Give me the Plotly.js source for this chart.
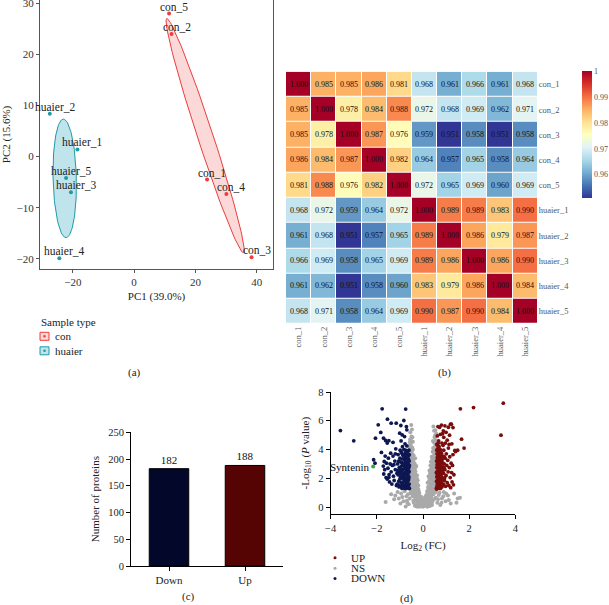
<!DOCTYPE html>
<html><head><meta charset="utf-8">
<script src="https://cdn.plot.ly/plotly-3.0.1.min.js"></script>
<style>html,body{margin:0;padding:0;background:#fff}#chart{width:609px;height:605px}</style>
</head><body><div id="chart"></div>
<script>
// ---------------- DATA ----------------
// (a) PCA
const pcaLabels = ['con_1','con_2','con_3','con_4','con_5','huaier_1','huaier_2','huaier_3','huaier_4','huaier_5'];
const pcaGroups = ['con','con','con','con','con','huaier','huaier','huaier','huaier','huaier'];
const pc1 = [23.8, 12.2, 38.3, 30.1, 11.4, -18.5, -27.5, -20.6, -24.4, -22.2];
const pc2 = [-4.5, 24.0, -19.7, -7.3, 28.0, 1.4, 8.4, -7.0, -19.9, -4.2];
const groupNames = ['con','huaier'];

// (b) correlation heatmap
const samples = ['con_1','con_2','con_3','con_4','con_5','huaier_1','huaier_2','huaier_3','huaier_4','huaier_5'];
const corr = [
 [1.000,0.985,0.985,0.986,0.981,0.968,0.961,0.966,0.961,0.968],
 [0.985,1.000,0.978,0.984,0.988,0.972,0.968,0.969,0.962,0.971],
 [0.985,0.978,1.000,0.987,0.976,0.959,0.951,0.958,0.951,0.958],
 [0.986,0.984,0.987,1.000,0.982,0.964,0.957,0.965,0.958,0.964],
 [0.981,0.988,0.976,0.982,1.000,0.972,0.965,0.969,0.960,0.969],
 [0.968,0.972,0.959,0.964,0.972,1.000,0.989,0.989,0.983,0.990],
 [0.961,0.968,0.951,0.957,0.965,0.989,1.000,0.986,0.979,0.987],
 [0.966,0.969,0.958,0.965,0.969,0.989,0.986,1.000,0.986,0.990],
 [0.961,0.962,0.951,0.958,0.960,0.983,0.979,0.986,1.000,0.984],
 [0.968,0.971,0.958,0.964,0.969,0.990,0.987,0.990,0.984,1.000]
];
const cbTicks = [0.96,0.97,0.98,0.99,1];
const cbTickText = ['0.96','0.97','0.98','0.99','1'];

// (c) bar chart
const barCats = ['Down','Up'];
const barVals = [182, 188];

// (d) volcano  [log2FC, -log10 P]
const downPts = [[-3.58,5.32],[-3.00,4.61],[-2.14,3.29],[-2.08,3.05],[-2.06,4.79],[-1.94,5.72],[-1.83,5.19],[-1.80,3.80],[-1.77,6.83],[-1.71,4.79],[-1.68,3.17],[-1.62,4.63],[-1.54,6.11],[-1.48,4.62],[-1.38,5.83],[-1.16,5.83],[-1.01,5.14],[-0.96,5.67],[-0.90,5.02],[-0.83,6.02],[-0.80,4.90],[-0.75,6.81],[-0.72,5.60],[-0.70,5.37],[-1.55,4.45],[-1.30,4.50],[-0.95,4.60],[-0.78,4.40],
 [-1.72,2.85],[-1.70,2.30],[-1.66,2.60],[-1.64,3.55],[-1.60,2.05],[-1.58,3.05],[-1.55,1.95],[-1.52,2.70],[-1.50,3.40],[-1.47,2.25],[-1.45,1.75],[-1.42,3.00],[-1.40,3.75],[-1.38,2.45],[-1.35,1.60],[-1.33,2.90],[-1.30,3.55],[-1.28,2.15],[-1.25,1.85],[-1.22,3.20],[-1.20,2.60],[-1.18,4.05],[-1.15,1.50],[-1.13,2.35],[-1.10,3.00],[-1.08,3.65],[-1.05,1.80],[-1.03,2.75],[-1.00,3.40],[-0.98,2.10],[-0.97,1.45],[-0.95,3.85],[-0.93,2.50],[-0.92,3.10],[-0.90,1.65],[-0.88,2.90],[-0.87,3.60],[-0.85,2.20],[-0.84,1.35],[-0.83,4.00],[-0.82,2.65],[-0.80,3.30],[-0.79,1.90],[-0.78,2.40],[-0.77,3.75],[-0.76,1.50],[-0.75,2.95],[-0.74,2.15],[-0.73,3.45],[-0.72,1.70],[-0.71,2.60],[-0.70,3.15],[-0.69,1.40],[-0.68,2.00],[-0.68,3.90],[-0.67,2.80],[-0.66,1.55],[-0.66,3.35],[-0.65,2.30],[-0.64,1.85],[-0.64,3.00],[-0.63,2.55],[-0.62,1.35],[-0.62,3.60],[-0.61,2.10],[-0.61,2.75],[-0.60,1.60],[-0.60,3.20],[-0.86,2.05],[-0.94,2.85],[-1.12,1.60],[-1.26,2.95],[-1.48,2.05],[-0.70,4.25],[-0.76,3.95],[-0.89,4.20],[-0.99,3.95],[-1.20,3.70],
 [-1.08,2.25],[-1.06,3.20],[-1.04,1.40],[-1.02,2.45],[-1.00,1.95],[-0.98,3.15],[-0.96,2.30],[-0.94,1.70],[-0.92,3.75],[-0.91,1.30],[-0.89,2.60],[-0.88,3.35],[-0.86,1.55],[-0.85,2.95],[-0.83,2.35],[-0.82,3.55],[-0.81,1.75],[-0.79,2.80],[-0.78,3.10],[-0.77,1.30],[-0.76,2.20],[-0.75,3.55],[-0.74,1.85],[-0.73,2.70],[-0.72,1.30],[-0.71,3.80],[-0.70,2.40],[-0.69,3.00],[-0.68,1.65],[-0.67,2.15],[-0.66,3.70],[-0.65,2.65],[-0.64,1.40],[-0.63,3.35],[-0.62,1.95],[-0.61,3.95],[-0.60,2.45],[-0.59,1.30],[-0.59,2.90],[-0.60,3.65],[-1.10,2.55],[-1.06,1.55],[-0.97,2.65],[-0.87,1.95]];
const upPts = [[3.48,7.22],[3.38,5.00],[2.19,6.92],[1.62,6.83],[1.78,4.10],[1.67,4.72],[1.50,3.95],[1.38,3.94],[1.23,5.76],[1.10,5.55],[0.95,5.65],[0.88,5.30],[0.80,5.70],[0.72,5.55],[0.65,5.60],[1.00,5.20],[1.15,5.00],[0.75,5.05],[0.62,4.95],[0.90,4.85],[1.05,4.65],[0.68,4.60],[1.25,4.40],[0.82,4.45],[0.60,4.35],
 [0.60,1.25],[0.60,2.10],[0.61,2.95],[0.61,3.70],[0.62,1.60],[0.62,2.50],[0.63,3.30],[0.63,4.05],[0.64,1.90],[0.64,2.75],[0.65,1.35],[0.65,3.55],[0.66,2.25],[0.66,3.05],[0.67,1.70],[0.67,3.85],[0.68,2.60],[0.69,1.45],[0.69,3.25],[0.70,2.05],[0.70,4.20],[0.71,2.85],[0.72,1.55],[0.72,3.50],[0.73,2.35],[0.74,1.95],[0.74,3.00],[0.75,4.00],[0.76,1.30],[0.76,2.70],[0.77,3.35],[0.78,2.15],[0.79,1.75],[0.80,3.75],[0.80,2.50],[0.82,1.40],[0.82,3.10],[0.84,2.00],[0.85,2.80],[0.86,3.55],[0.88,1.60],[0.89,2.35],[0.90,3.95],[0.92,3.00],[0.93,1.85],[0.95,2.60],[0.96,3.40],[0.98,1.45],[1.00,2.20],[1.01,3.70],[1.03,2.90],[1.05,1.70],[1.07,3.25],[1.09,2.45],[1.10,4.10],[1.12,1.50],[1.14,2.75],[1.16,3.50],[1.18,2.05],[1.20,1.35],[1.22,3.05],[1.24,2.40],[1.26,1.75],[1.28,2.90],[1.30,3.65],[1.32,1.55],[1.34,2.25],[0.87,4.30],[0.97,4.45],[1.13,4.35],[0.66,4.45],
 [0.58,1.30],[0.58,2.40],[0.59,3.20],[0.59,1.80],[0.60,2.75],[0.60,3.95],[0.61,1.45],[0.62,2.25],[0.62,3.45],[0.63,1.75],[0.64,3.10],[0.65,2.40],[0.65,4.25],[0.66,1.50],[0.67,2.90],[0.68,1.95],[0.68,3.65],[0.70,2.45],[0.70,3.40],[0.71,1.30],[0.72,2.95],[0.73,1.80],[0.74,3.80],[0.75,2.25],[0.76,3.10],[0.77,1.60],[0.78,2.80],[0.79,3.55],[0.80,1.95],[0.81,2.30],[0.83,3.30],[0.84,1.50],[0.86,2.55],[0.87,3.05],[0.88,1.95],[0.91,2.75],[0.92,3.50],[0.94,2.05],[1.19,5.76],[1.30,5.53],[0.85,5.10],[1.41,3.86]];
const nsPts = [[-0.40,0.30],[-0.35,0.10],[-0.30,0.45],[-0.28,0.05],[-0.25,0.25],[-0.22,0.60],[-0.20,0.02],[-0.18,0.35],[-0.15,0.15],[-0.12,0.50],[-0.10,0.05],[-0.08,0.28],[-0.05,0.12],[-0.03,0.40],[0.00,0.02],[0.02,0.20],[0.04,0.45],[0.06,0.08],[0.09,0.30],[0.11,0.55],[0.13,0.12],[0.16,0.38],[0.19,0.03],[0.21,0.65],[0.24,0.22],[0.27,0.48],[0.30,0.08],[0.33,0.35],[0.36,0.70],[0.39,0.15],[0.42,0.50],[-0.45,0.75],[-0.38,0.90],[-0.32,0.72],[-0.27,0.95],[-0.18,0.80],[0.15,0.85],[0.25,0.90],[0.32,1.00],[0.45,0.90],
 [-0.55,1.20],[-0.50,1.50],[-0.47,1.90],[-0.44,1.10],[-0.40,1.70],[-0.36,1.35],[-0.33,1.95],[-0.29,1.15],[-0.25,1.60],[-0.21,1.25],[-0.17,1.05],[0.18,1.10],[0.22,1.40],[0.26,1.80],[0.30,1.25],[0.34,1.60],[0.38,1.95],[0.42,1.30],[0.46,1.70],[0.50,1.15],[0.54,1.55],[0.57,1.90],
 [-0.58,2.40],[-0.55,2.85],[-0.52,2.15],[-0.49,2.60],[-0.46,2.95],[-0.43,2.30],[-0.40,2.75],[-0.36,2.10],[-0.33,2.50],[-0.29,2.85],[-0.26,2.20],[0.24,2.15],[0.28,2.55],[0.32,2.90],[0.36,2.30],[0.40,2.70],[0.44,2.05],[0.48,2.45],[0.52,2.85],[0.55,2.25],[0.58,2.65],
 [-0.60,3.30],[-0.57,3.75],[-0.54,3.10],[-0.51,3.50],[-0.48,3.90],[-0.45,3.25],[-0.41,3.60],[-0.37,3.05],[-0.34,3.40],[0.34,3.15],[0.38,3.50],[0.42,3.85],[0.45,3.25],[0.49,3.65],[0.52,3.05],[0.55,3.45],[0.58,3.90],
 [-0.59,4.25],[-0.56,4.70],[-0.53,4.40],[-0.50,4.90],[-0.47,4.15],[-0.44,4.55],[-0.55,5.20],[-0.51,5.70],[-0.48,5.40],[0.44,4.10],[0.47,4.50],[0.50,4.85],[0.53,4.25],[0.56,4.65],[0.58,5.10],[0.45,5.60],[0.54,5.35],
 [-1.62,0.35],[-1.38,0.90],[-1.25,0.55],[-1.10,1.05],[-0.98,0.25],[-0.90,0.70],[-0.80,1.10],[-0.75,0.05],[-0.70,0.45],[-0.65,0.90],[-0.62,0.20],[0.62,0.30],[0.68,0.85],[0.75,0.15],[0.82,0.60],[0.90,1.05],[0.98,0.40],[1.08,0.80],[1.20,0.25],[1.35,0.95],[1.50,0.60],[-0.58,0.60],[0.55,0.65],
 [-0.52,1.75],[-0.48,2.20],[-0.45,1.45],[-0.42,2.45],[-0.39,1.20],[-0.35,1.75],[-0.31,2.25],[-0.27,1.40],[-0.23,1.85],[-0.20,1.50],[-0.14,0.70],[-0.24,0.55],[-0.34,0.55],[-0.42,0.45],[-0.50,0.95],[0.20,1.70],[0.24,1.05],[0.28,2.00],[0.31,2.35],[0.35,1.05],[0.39,2.45],[0.43,1.55],[0.47,2.15],[0.50,2.95],[0.53,1.35],[0.56,3.10],[0.40,0.35],[0.48,0.55],[0.12,0.75],[-0.06,0.70],[-0.53,2.55],[-0.50,3.20],[-0.44,2.70],[-0.40,3.35],[-0.38,2.40],[0.36,2.70],[0.41,3.10],[0.46,2.75],[0.50,3.40],[0.53,3.75],[-0.57,4.05],[-0.53,3.65],[0.51,4.45],[0.57,4.35],
 [-0.57,1.40],[-0.56,2.05],[-0.55,3.55],[-0.54,1.00],[-0.53,2.30],[-0.52,2.95],[-0.51,4.20],[-0.50,1.30],[-0.49,3.75],[-0.48,1.65],[-0.47,2.50],[-0.46,3.40],[-0.45,2.05],[-0.44,4.00],[-0.43,1.15],[-0.42,2.90],[-0.41,1.85],[-0.40,2.20],[-0.39,3.05],[-0.38,1.50],[-0.37,2.60],[-0.36,0.85],[-0.35,2.30],[-0.34,1.20],[-0.33,2.75],[-0.32,1.60],[-0.31,1.05],[-0.30,1.90],[-0.29,0.60],[-0.28,1.35],[-0.26,0.80],[-0.25,1.95],[-0.23,1.10],[-0.22,0.35],[-0.20,1.20],[-0.19,0.55],[-0.17,0.25],[-0.16,0.95],[-0.13,0.35],[-0.11,0.20],[-0.58,1.90],[-0.58,3.00],[-0.57,4.50],[-0.52,4.65],[-0.46,4.85],
 [0.56,1.05],[0.55,2.00],[0.55,3.75],[0.54,2.60],[0.53,1.80],[0.52,3.35],[0.51,2.20],[0.50,1.55],[0.49,4.05],[0.48,3.05],[0.47,1.25],[0.46,3.50],[0.45,2.40],[0.44,1.85],[0.43,2.80],[0.42,1.10],[0.41,2.15],[0.40,3.35],[0.39,1.65],[0.38,2.95],[0.37,1.25],[0.36,1.95],[0.35,2.55],[0.34,0.85],[0.33,1.40],[0.32,2.10],[0.31,0.60],[0.30,1.65],[0.28,1.05],[0.27,1.45],[0.26,0.70],[0.23,1.25],[0.22,0.40],[0.20,0.95],[0.18,0.50],[0.17,0.20],[0.14,0.45],[0.10,0.15],[0.07,0.35],[0.57,2.90],[0.57,1.50],[0.53,5.00],[0.48,5.30],[0.43,4.60],
 [-1.20,0.80],[-1.05,0.60],[-0.95,0.95],[-0.85,0.40],[-0.72,0.75],[-0.68,0.30],[0.65,0.55],[0.72,1.00],[0.80,0.30],[0.88,0.75],[1.00,0.95],[1.12,0.50],[1.45,0.30],[1.60,0.65],[-0.05,0.50],[0.03,0.60],[-0.01,0.15]];
const highlightName = 'Syntenin';
const highlightPt = [-2.16, 2.82];
const volcanoLegend = ['UP','NS','DOWN'];

// ---------------- LAYOUT HELPERS ----------------
const W = 609, H = 605;
const PX = v => v / W;
const PY = v => 1 - v / H;
const SERIF = '"Liberation Serif","Times New Roman",serif';
const RED = '#ee3b3b', RED_FILL = 'rgba(240,80,80,0.22)';
const TEAL = '#1f9aa5', TEAL_FILL = 'rgba(90,185,205,0.38)';
const UPC = '#7a0c0c', DOWNC = '#0d1752', NSC = '#a9a9a9';

function ellipse(xs, ys, k) {
  const n = xs.length;
  const mx = xs.reduce((a,b)=>a+b,0)/n, my = ys.reduce((a,b)=>a+b,0)/n;
  let sxx=0, syy=0, sxy=0;
  for (let i=0;i<n;i++){ const dx=xs[i]-mx, dy=ys[i]-my; sxx+=dx*dx; syy+=dy*dy; sxy+=dx*dy; }
  sxx/=(n-1); syy/=(n-1); sxy/=(n-1);
  const tr=sxx+syy, det=sxx*syy-sxy*sxy;
  const d=Math.sqrt(Math.max(tr*tr/4-det,0));
  const l1=tr/2+d, l2=Math.max(tr/2-d,0);
  const th=Math.atan2(l1-sxx, sxy);
  const ex=[], ey=[];
  for (let i=0;i<=120;i++){
    const t=2*Math.PI*i/120;
    const u=k*Math.sqrt(l1)*Math.cos(t), v=k*Math.sqrt(l2)*Math.sin(t);
    ex.push(mx+u*Math.cos(th)-v*Math.sin(th));
    ey.push(my+u*Math.sin(th)+v*Math.cos(th));
  }
  return {ex, ey};
}

const traces = [];
const annotations = [];
const shapes = [];

// (a) ellipses + points
const gColor = {con:[RED,RED_FILL], huaier:[TEAL,TEAL_FILL]};
groupNames.forEach(g => {
  const xs = pc1.filter((_,i)=>pcaGroups[i]===g), ys = pc2.filter((_,i)=>pcaGroups[i]===g);
  const e = ellipse(xs, ys, 1.1);
  traces.push({type:'scatter', mode:'lines', x:e.ex, y:e.ey, fill:'toself', fillcolor:gColor[g][1],
    line:{color:gColor[g][0], width:1}, xaxis:'x', yaxis:'y', showlegend:false, hoverinfo:'skip'});
});
groupNames.forEach(g => {
  traces.push({type:'scatter', mode:'markers', x:pc1.filter((_,i)=>pcaGroups[i]===g), y:pc2.filter((_,i)=>pcaGroups[i]===g),
    marker:{color:gColor[g][0], size:4}, xaxis:'x', yaxis:'y', showlegend:false});
});
pcaLabels.forEach((lab,i) => annotations.push({x:pc1[i], y:pc2[i], xref:'x', yref:'y', text:lab, showarrow:false,
  xanchor:'center', yanchor:'middle', xshift:5, yshift:7, font:{family:SERIF, size:11.5, color:'#222'}}));

// (b) heatmap
traces.push({type:'heatmap', z:corr, x:samples, y:samples, xaxis:'x2', yaxis:'y2', zmin:0.951, zmax:1,
  xgap:1, ygap:1,
  colorscale:[[0,'#313695'],[0.1,'#4575b4'],[0.2,'#74add1'],[0.3,'#abd9e9'],[0.4,'#e0f3f8'],[0.5,'#ffffbf'],
              [0.6,'#fee090'],[0.7,'#fdae61'],[0.8,'#f46d43'],[0.9,'#d73027'],[1,'#a50026']],
  texttemplate:'%{z:.3f}', textfont:{family:SERIF, size:8, color:'#111'},
  colorbar:{x:PX(582), xanchor:'left', y:PY(71), yanchor:'top', len:127/H, lenmode:'fraction',
    thickness:10, thicknessmode:'pixels', outlinewidth:0, tickvals:cbTicks, ticktext:cbTickText, ticks:'',
    tickfont:{family:SERIF, size:8, color:'#555'}, xpad:0, ypad:0}});

// (c) bars
traces.push({type:'bar', x:barCats, y:barVals, xaxis:'x3', yaxis:'y3', width:0.52,
  marker:{color:['#03082a','#550303'], line:{color:'#000', width:1}},
  text:barVals.map(String), textposition:'outside', textfont:{family:SERIF, size:11, color:'#111'},
  cliponaxis:false, showlegend:false});

// (d) volcano
traces.push({type:'scatter', mode:'markers', x:nsPts.map(p=>p[0]), y:nsPts.map(p=>p[1]), xaxis:'x4', yaxis:'y4',
  marker:{color:NSC, size:4}, showlegend:false});
traces.push({type:'scatter', mode:'markers', x:downPts.map(p=>p[0]), y:downPts.map(p=>p[1]), xaxis:'x4', yaxis:'y4',
  marker:{color:DOWNC, size:3.8}, showlegend:false});
traces.push({type:'scatter', mode:'markers', x:upPts.map(p=>p[0]), y:upPts.map(p=>p[1]), xaxis:'x4', yaxis:'y4',
  marker:{color:UPC, size:3.8}, showlegend:false});
traces.push({type:'scatter', mode:'markers', x:[highlightPt[0]], y:[highlightPt[1]], xaxis:'x4', yaxis:'y4',
  marker:{color:'#3aa63a', size:4}, showlegend:false});
annotations.push({x:highlightPt[0], y:highlightPt[1], xref:'x4', yref:'y4', text:highlightName, showarrow:false,
  xanchor:'right', yanchor:'middle', xshift:-1, font:{family:SERIF, size:11, color:'#111'}});

// legends (manual)
annotations.push({x:PX(39), y:PY(322), xref:'paper', yref:'paper', text:'Sample type', showarrow:false,
  xanchor:'left', yanchor:'middle', font:{family:SERIF, size:11, color:'#222'}});
const legRows = [[336.3,'con',RED,RED_FILL],[350.8,'huaier',TEAL,TEAL_FILL]];
legRows.forEach(r => {
  shapes.push({type:'rect', xref:'paper', yref:'paper', x0:PX(40), x1:PX(49), y0:PY(r[0]+4), y1:PY(r[0]-4),
    fillcolor:r[3], line:{color:r[2], width:1}});
  shapes.push({type:'circle', xref:'paper', yref:'paper', x0:PX(43.2), x1:PX(45.8), y0:PY(r[0]+1.3), y1:PY(r[0]-1.3),
    fillcolor:r[2], line:{width:0}});
  annotations.push({x:PX(53), y:PY(r[0]), xref:'paper', yref:'paper', text:r[1], showarrow:false,
    xanchor:'left', yanchor:'middle', font:{family:SERIF, size:11, color:'#222'}});
});
const vlegY = [557.7, 568.2, 578.4];
const vlegC = [UPC, NSC, DOWNC];
volcanoLegend.forEach((t,i) => {
  shapes.push({type:'circle', xref:'paper', yref:'paper', x0:PX(333.5), x1:PX(336.5), y0:PY(vlegY[i]+1.5), y1:PY(vlegY[i]-1.5),
    fillcolor:vlegC[i], line:{width:0}});
  annotations.push({x:PX(348.5), y:PY(vlegY[i]), xref:'paper', yref:'paper', text:t, showarrow:false,
    xanchor:'left', yanchor:'middle', font:{family:SERIF, size:11, color:'#222'}});
});

// panel labels
[['(a)',134,372.7],['(b)',444,372.7],['(c)',188,596],['(d)',406,598.5]].forEach(p =>
  annotations.push({x:PX(p[1]), y:PY(p[2]), xref:'paper', yref:'paper', text:p[0], showarrow:false,
    xanchor:'center', yanchor:'middle', font:{family:SERIF, size:11, color:'#222'}}));

const tf = (s,c) => ({family:SERIF, size:s, color:c||'#333'});
const layout = {
  width:W, height:H, margin:{l:0,r:0,t:0,b:0}, paper_bgcolor:'#fff', plot_bgcolor:'#fff', showlegend:false,
  font:{family:SERIF},
  xaxis:{domain:[PX(40),PX(273)], range:[-30.7,45.3], anchor:'y', showline:true, mirror:true, linecolor:'#555', linewidth:1,
    ticks:'outside', ticklen:3, tickcolor:'#555', tickvals:[-20,0,20,40], showgrid:false, zeroline:false,
    tickfont:tf(11), title:{text:'PC1 (39.0%)', font:tf(11,'#222'), standoff:5}},
  yaxis:{domain:[PY(269),1], range:[-22,30.65], anchor:'x', showline:true, mirror:true, linecolor:'#555', linewidth:1,
    ticks:'outside', ticklen:3, tickcolor:'#555', tickvals:[-20,-10,0,10,20,30], showgrid:false, zeroline:false,
    ticklabeloverflow:'allow',
    tickfont:tf(11), title:{text:'PC2 (15.6%)', font:tf(11,'#222'), standoff:5}},
  xaxis2:{domain:[PX(286),PX(537.7)], anchor:'y2', tickangle:-90, ticks:'', showgrid:false, zeroline:false, showline:false,
    tickfont:tf(8.5,'#555')},
  yaxis2:{domain:[PY(324),PY(71.7)], anchor:'x2', autorange:'reversed', side:'right', ticks:'', showgrid:false,
    zeroline:false, showline:false, tickfont:tf(8.5,'#555')},
  xaxis3:{domain:[PX(131),PX(283)], anchor:'y3', showline:true, linecolor:'#000', linewidth:1, ticks:'outside', ticklen:4,
    tickcolor:'#000', showgrid:false, zeroline:false, tickfont:tf(11,'#222')},
  yaxis3:{domain:[PY(566),PY(432.3)], anchor:'x3', range:[0,250], dtick:50, showline:true, linecolor:'#000', linewidth:1,
    ticks:'outside', ticklen:4, tickcolor:'#000', showgrid:false, zeroline:false, tickfont:tf(10.5,'#222'),
    title:{text:'Number of proteins', font:tf(11,'#222'), standoff:6}},
  xaxis4:{domain:[PX(330.7),PX(515.3)], anchor:'y4', range:[-4,4], tickvals:[-4,-2,0,2,4], showline:true, linecolor:'#000',
    linewidth:1, ticks:'outside', ticklen:4, tickcolor:'#000', showgrid:false, zeroline:false, tickfont:tf(10.5,'#222'),
    title:{text:'Log<sub>2</sub> (FC)', font:tf(11,'#222'), standoff:8}},
  yaxis4:{domain:[PY(514.3),PY(392)], anchor:'x4', range:[-0.5,8], tickvals:[0,2,4,6,8], showline:true, linecolor:'#000',
    linewidth:1, ticks:'outside', ticklen:4, tickcolor:'#000', showgrid:false, zeroline:false, tickfont:tf(10.5,'#222'),
    title:{text:'-Log<sub>10</sub> (<i>P</i> value)', font:tf(11,'#222'), standoff:6}},
  annotations:annotations, shapes:shapes
};
Plotly.newPlot('chart', traces, layout, {staticPlot:true, displayModeBar:false});
</script></body></html>
